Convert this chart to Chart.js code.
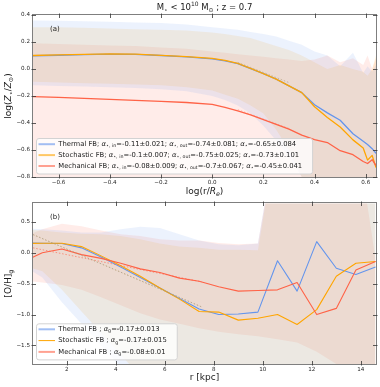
<!DOCTYPE html>
<html><head><meta charset="utf-8">
<script src="https://cdn.jsdelivr.net/npm/chart.js@4.4.1/dist/chart.umd.min.js"></script>
<style>
html,body{margin:0;padding:0;background:#fff;}
#wrap{position:relative;width:380px;height:387px;overflow:hidden;background:#fff}
canvas{position:absolute;left:0}
</style>
</head><body>
<div id="wrap">
<canvas id="ca" width="380" height="197" style="top:0;width:380px;height:197px"></canvas>
<canvas id="cb" width="380" height="190" style="top:197px;width:380px;height:190px"></canvas>
</div>
<script>
// ---------------- DATA ----------------
// Panel (a): stellar metallicity profiles vs log(r/Re)
const xA = [-0.7, -0.6, -0.5, -0.4, -0.3, -0.2, -0.1, 0.0, 0.05, 0.1, 0.15, 0.2, 0.25, 0.3, 0.35, 0.4, 0.45, 0.5, 0.55, 0.59, 0.607, 0.625, 0.64];
const thermalA    = [0.098, 0.102, 0.106, 0.110, 0.108, 0.100, 0.090, 0.075, 0.060, 0.040, 0.003, -0.035, -0.075, -0.125, -0.175, -0.265, -0.325, -0.38, -0.48, -0.535, -0.56, -0.59, -0.625];
const stochasticA = [0.100, 0.104, 0.108, 0.112, 0.110, 0.101, 0.092, 0.078, 0.064, 0.042, 0.004, -0.035, -0.075, -0.125, -0.175, -0.28, -0.36, -0.43, -0.525, -0.585, -0.675, -0.64, -0.73];
const mechanicalA = [-0.205, -0.21, -0.218, -0.225, -0.232, -0.24, -0.248, -0.262, -0.285, -0.31, -0.34, -0.375, -0.41, -0.445, -0.49, -0.523, -0.545, -0.605, -0.635, -0.685, -0.70, -0.672, -0.715];
const thermalA_hi    = [0.36, 0.357, 0.353, 0.35, 0.345, 0.34, 0.33, 0.31, 0.30, 0.29, 0.275, 0.26, 0.24, 0.21, 0.18, 0.13, 0.10, 0.02, 0.12, -0.03, 0.02, -0.02, 0.03];
const thermalA_lo    = [-0.12, -0.125, -0.13, -0.135, -0.14, -0.15, -0.165, -0.2, -0.23, -0.27, -0.33, -0.42, -0.53, -0.65, -0.8, -0.95, -1.1, -1.2, -1.3, -1.4, -1.4, -1.4, -1.4];
const stochasticA_hi = [0.31, 0.31, 0.305, 0.30, 0.295, 0.29, 0.285, 0.27, 0.26, 0.245, 0.23, 0.2, 0.17, 0.14, 0.1, 0.05, 0.0, 0.03, 0.0, -0.02, -0.05, 0.0, 0.1];
const stochasticA_lo = [-0.095, -0.1, -0.105, -0.11, -0.115, -0.12, -0.135, -0.16, -0.19, -0.22, -0.27, -0.33, -0.45, -0.6, -0.8, -1.0, -1.1, -1.2, -1.3, -1.4, -1.4, -1.4, -1.4];
const mechanicalA_hi = [0.19, 0.185, 0.18, 0.175, 0.17, 0.16, 0.15, 0.13, 0.12, 0.11, 0.1, 0.09, 0.08, 0.07, 0.06, 0.07, 0.1, 0.05, 0.08, 0.03, 0.1, 0.0, 0.08];
const mechanicalA_lo = [-1.2, -1.2, -1.2, -1.2, -1.2, -1.2, -1.2, -1.2, -1.2, -1.2, -1.2, -1.2, -1.2, -1.2, -1.2, -1.2, -1.2, -1.2, -1.2, -1.2, -1.2, -1.2, -1.2];
// outer-slope fits (panel a)
const fitAX = [0.1, 0.3];
const fitAThermal    = [0.047, -0.101];
const fitAStochastic = [0.05, -0.10];
const fitAMechanical = [-0.30, -0.44];

// Panel (b): gas [O/H] profiles vs r [kpc]
const xB = [0.2, 1.0, 1.8, 2.6, 3.4, 4.2, 5.0, 5.8, 6.6, 7.4, 8.2, 9.0, 9.8, 10.6, 11.4, 12.2, 13.0, 13.8, 14.6];
const thermalB    = [0.16, 0.155, 0.15, 0.08, -0.07, -0.23, -0.4, -0.57, -0.74, -0.91, -1.0, -0.99, -0.96, -0.13, -0.62, 0.18, -0.25, -0.35, -0.23];
const stochasticB = [0.15, 0.155, 0.155, 0.1, -0.05, -0.21, -0.38, -0.57, -0.75, -0.95, -0.96, -1.09, -1.06, -1.0, -1.16, -0.92, -0.38, -0.17, -0.14];
const mechanicalB = [-0.15, 0.0, 0.06, -0.03, -0.09, -0.17, -0.26, -0.32, -0.41, -0.46, -0.55, -0.62, -0.61, -0.6, -0.48, -1.0, -0.9, -0.28, -0.14];
const thermalB_hi    = [0.4, 0.38, 0.36, 0.33, 0.33, 0.38, 0.42, 0.4, 0.3, 0.2, 0.14, 0.12, 0.15, 2, 2, 2, 2, 2, 2];
const thermalB_lo    = [-0.2, -0.4, -0.8, -1.15, -1.5, -1.85, -2.5, -2.5, -2.5, -2.5, -2.5, -2.5, -2.5, -2.5, -2.5, -2.5, -2.5, -2.5, -2.5];
const stochasticB_hi = [0.38, 0.36, 0.33, 0.31, 0.3, 0.27, 0.22, 0.15, 0.1, 0.08, 0.05, 0.05, 0.04, 2, 2, 2, 2, 2, 2];
const stochasticB_lo = [-0.2, -0.3, -0.6, -0.95, -1.3, -1.65, -2.0, -2.5, -2.5, -2.5, -2.5, -2.5, -2.5, -2.5, -2.5, -2.5, -2.5, -2.5, -2.5];
const mechanicalB_hi = [0.25, 0.38, 0.47, 0.43, 0.36, 0.3, 0.27, 0.22, 0.2, 0.2, 0.16, 0.14, 0.15, 2, 2, 2, 2, 2, -0.1];
const mechanicalB_lo = [-0.45, -0.48, -0.52, -0.6, -0.72, -0.85, -0.98, -1.08, -1.15, -1.22, -1.28, -1.32, -1.35, -1.4, -1.45, -1.6, -1.8, -2.2, -2.5];
// gradient fits (panel b)
const fitBX = [0.62, 7.5];
const fitBThermal    = [0.295, -0.875];
const fitBStochastic = [0.295, -0.875];
const fitBMechanical = [0.08, -0.47];

// Tick labels
const xTicksA = [-0.6, -0.4, -0.2, 0.0, 0.2, 0.4, 0.6];
const yTicksA = [0.4, 0.2, 0.0, -0.2, -0.4, -0.6, -0.8];
const xTicksB = [2, 4, 6, 8, 10, 12, 14];
const yTicksB = [0.5, 0.0, -0.5, -1.0, -1.5];

// Legend texts
const seriesNames = ['Thermal FB', 'Stochastic FB', 'Mechanical FB'];
const alphaIn  = ['-0.11±0.021', '-0.1±0.007', '-0.08±0.009'];
const alphaOut = ['-0.74±0.081', '-0.75±0.025', '-0.7±0.067'];
const alphaAll = ['-0.65±0.084', '-0.73±0.101', '-0.45±0.041'];
const alphaG   = ['-0.17±0.013', '-0.17±0.015', '-0.08±0.01'];

// ---------------- STYLE ----------------
const RGB = ['100,149,237', '255,165,0', '255,99,71'];
const FAM = '"DejaVu Sans", sans-serif';

function pts(xs, ys) { return xs.map((x, i) => ({ x: x, y: ys[i] })); }
function bandSets(xs, hi, lo, rgb) {
  return [
    { data: pts(xs, hi), borderWidth: 0, pointRadius: 0, fill: '+1', backgroundColor: 'rgba(' + rgb + ',0.12)', borderColor: 'rgba(0,0,0,0)', order: 20 },
    { data: pts(xs, lo), borderWidth: 0, pointRadius: 0, fill: false, borderColor: 'rgba(0,0,0,0)', order: 20 }
  ];
}
function lineSet(xs, ys, rgb, w, order) {
  return { data: pts(xs, ys), borderColor: 'rgb(' + rgb + ')', borderWidth: w, pointRadius: 0, fill: false, tension: 0, order: order, borderJoinStyle: 'round' };
}
function fitSet(xs, ys, rgb, a) {
  return { data: pts(xs, ys), borderColor: 'rgba(' + rgb + ',' + a + ')', borderWidth: 1, borderDash: [1.5, 1.8], pointRadius: 0, fill: false, tension: 0, order: 0 };
}
function fmt(v, d) { return Number(v).toFixed(d).replace('-', '\u2212'); }

function scaleOpts(min, max, ticksArr, dec, isY, fitSize, pad) {
  return {
    type: 'linear', min: min, max: max,
    afterBuildTicks: s => { s.ticks = ticksArr.map(v => ({ value: v })); },
    afterFit: s => { if (isY) s.width = fitSize; else s.height = fitSize; },
    grid: { display: false, drawTicks: false, tickLength: 0 }, border: { display: false },
    ticks: { autoSkip: false, maxRotation: 0, padding: pad, color: '#262626',
      font: { family: FAM, size: 5.6 }, callback: v => fmt(v, dec) }
  };
}

// rich text helpers
function segFont(s, size) { const sz = (s.sub || s.sup) ? size * 0.7 : size; return (s.it ? 'italic ' : '') + sz.toFixed(2) + 'px ' + FAM; }
function richW(ctx, segs, size) { let w = 0; for (const s of segs) { ctx.font = segFont(s, size); w += ctx.measureText(s.t).width; } return w; }
function drawRich(ctx, segs, x, y, size, align, color, rot) {
  ctx.save(); ctx.translate(x, y); if (rot) ctx.rotate(rot);
  const w = richW(ctx, segs, size);
  let cx = align === 'center' ? -w / 2 : (align === 'right' ? -w : 0);
  ctx.fillStyle = color; ctx.textBaseline = 'middle'; ctx.textAlign = 'left';
  for (const s of segs) {
    ctx.font = segFont(s, size);
    const dy = s.sub ? size * 0.25 : (s.sup ? -size * 0.38 : 0);
    ctx.fillText(s.t, cx, dy);
    cx += ctx.measureText(s.t).width;
  }
  ctx.restore(); return w;
}
function roundRectPath(ctx, x, y, w, h, r) {
  ctx.beginPath();
  ctx.moveTo(x + r, y); ctx.lineTo(x + w - r, y); ctx.quadraticCurveTo(x + w, y, x + w, y + r);
  ctx.lineTo(x + w, y + h - r); ctx.quadraticCurveTo(x + w, y + h, x + w - r, y + h);
  ctx.lineTo(x + r, y + h); ctx.quadraticCurveTo(x, y + h, x, y + h - r);
  ctx.lineTo(x, y + r); ctx.quadraticCurveTo(x, y, x + r, y); ctx.closePath();
}
function drawLegend(ctx, rows, handles, x0, y0, firstOff, rowH, size) {
  const textX = x0 + 22.3;
  let maxW = 0; rows.forEach(r => { maxW = Math.max(maxW, richW(ctx, r, size)); });
  const w = (textX - x0) + maxW + 10;
  const h = firstOff + rowH * (rows.length - 1) + 7.5;
  ctx.save();
  roundRectPath(ctx, x0 + 0.5, y0 + 0.5, w, h, 2.5);
  ctx.fillStyle = 'rgba(255,255,255,0.8)'; ctx.fill();
  ctx.strokeStyle = '#d3d3d3'; ctx.lineWidth = 1; ctx.stroke();
  rows.forEach((r, i) => {
    const yc = y0 + firstOff + i * rowH;
    const hd = handles[i];
    ctx.strokeStyle = hd.color; ctx.lineWidth = hd.w; ctx.lineCap = 'butt';
    ctx.beginPath(); ctx.moveTo(x0 + 2.5, yc); ctx.lineTo(x0 + 19, yc); ctx.stroke();
    drawRich(ctx, r, textX, yc, size, 'left', '#1a1a1a');
  });
  ctx.restore();
}
function drawFrame(chart, xt, yt) {
  const ctx = chart.ctx, a = chart.chartArea, xs = chart.scales.x, ys = chart.scales.y;
  ctx.save();
  ctx.strokeStyle = '#7f7f7f'; ctx.lineWidth = 1;
  const L = Math.round(a.left), T = Math.round(a.top), R = Math.round(a.right), B = Math.round(a.bottom);
  ctx.strokeRect(L - 0.5, T - 0.5, R - L + 1, B - T + 1);
  ctx.strokeStyle = '#333'; ctx.lineWidth = 0.8;
  ctx.beginPath();
  xt.forEach(v => {
    const p = Math.round(xs.getPixelForValue(v)) + 0.5;
    ctx.moveTo(p, B + 1.5); ctx.lineTo(p, B - 3);
    ctx.moveTo(p, T - 1.5); ctx.lineTo(p, T + 3);
  });
  yt.forEach(v => {
    const p = Math.round(ys.getPixelForValue(v)) + 0.5;
    ctx.moveTo(L - 1.5, p); ctx.lineTo(L + 3, p);
    ctx.moveTo(R + 1.5, p); ctx.lineTo(R - 3, p);
  });
  ctx.stroke();
  ctx.restore();
}

const SUBSTAR = '\u22C6';
const ODOT = '\u2299';

// ---------------- CHART A ----------------
const dsA = [].concat(
  bandSets(xA, thermalA_hi, thermalA_lo, RGB[0]),
  bandSets(xA, stochasticA_hi, stochasticA_lo, RGB[1]),
  bandSets(xA, mechanicalA_hi, mechanicalA_lo, RGB[2]),
  [lineSet(xA, thermalA, RGB[0], 1.3, 3),
   lineSet(xA, stochasticA, RGB[1], 1.3, 2),
   lineSet(xA, mechanicalA, RGB[2], 1.3, 1),
   fitSet(fitAX, fitAThermal, RGB[0], 0.35),
   fitSet(fitAX, fitAStochastic, RGB[1], 0.35),
   fitSet(fitAX, fitAMechanical, RGB[2], 0.35)]
);

const legendRowsA = seriesNames.map((n, i) => [
  { t: n + '; ' }, { t: '\u03B1', it: 1 }, { t: SUBSTAR + ', in', sub: 1 }, { t: '=' + alphaIn[i] + '; ' },
  { t: '\u03B1', it: 1 }, { t: SUBSTAR + ', out', sub: 1 }, { t: '=' + alphaOut[i] + '; ' },
  { t: '\u03B1', it: 1 }, { t: SUBSTAR, sub: 1 }, { t: '=' + alphaAll[i] }
]);

const decorA = {
  id: 'decorA',
  afterDraw(chart) {
    const ctx = chart.ctx, a = chart.chartArea;
    drawFrame(chart, xTicksA, yTicksA);
    const cx = (a.left + a.right) / 2;
    drawRich(ctx, [{ t: '(a)' }], a.left + 17, a.top + 14.3, 7, 'left', '#1a1a1a');
    drawLegend(ctx, legendRowsA, [
      { color: 'rgba(' + RGB[0] + ',0.6)', w: 2 },
      { color: 'rgba(' + RGB[1] + ',0.6)', w: 2 },
      { color: 'rgba(' + RGB[2] + ',0.6)', w: 2 }], 36, 138, 6.2, 10.9, 6.8);
    drawRich(ctx, [{ t: 'M' }, { t: SUBSTAR, sub: 1 }, { t: ' < 10' }, { t: '10', sup: 1 }, { t: ' M' }, { t: ODOT, sub: 1 }, { t: ' ; z = 0.7' }],
      cx, 8, 8.5, 'center', '#1a1a1a');
    drawRich(ctx, [{ t: 'log(r/' }, { t: 'R', it: 1 }, { t: 'e', sub: 1, it: 1 }, { t: ')' }], cx, a.bottom + 15, 9, 'center', '#1a1a1a');
    drawRich(ctx, [{ t: 'log(' }, { t: 'Z', it: 1 }, { t: SUBSTAR, sub: 1 }, { t: '/' }, { t: 'Z', it: 1 }, { t: ODOT, sub: 1 }, { t: ')' }],
      9, (a.top + a.bottom) / 2, 9, 'center', '#1a1a1a', -Math.PI / 2);
  }
};

new Chart(document.getElementById('ca'), {
  type: 'line',
  data: { datasets: dsA },
  options: {
    responsive: false, animation: false, devicePixelRatio: 1, events: [],
    layout: { padding: { top: 15, left: 0, right: 4, bottom: 0 } },
    plugins: { legend: { display: false }, tooltip: { enabled: false }, title: { display: false },
      filler: { drawTime: 'beforeDatasetsDraw' } },
    scales: {
      x: scaleOpts(-0.7, 0.64, xTicksA, 1, false, 20, 2),
      y: scaleOpts(-0.8, 0.4, yTicksA, 1, true, 33, 3)
    }
  },
  plugins: [decorA]
});

// ---------------- CHART B ----------------
const dsB = [].concat(
  bandSets(xB, thermalB_hi, thermalB_lo, RGB[0]),
  bandSets(xB, stochasticB_hi, stochasticB_lo, RGB[1]),
  bandSets(xB, mechanicalB_hi, mechanicalB_lo, RGB[2]),
  [lineSet(xB, thermalB, RGB[0], 1.1, 3),
   lineSet(xB, stochasticB, RGB[1], 1.1, 2),
   lineSet(xB, mechanicalB, RGB[2], 1.1, 1),
   fitSet(fitBX, fitBThermal, RGB[0], 0.45),
   fitSet(fitBX, fitBStochastic, RGB[1], 0.6),
   fitSet(fitBX, fitBMechanical, RGB[2], 0.6)]
);

const legendRowsB = seriesNames.map((n, i) => [
  { t: n + ' ; ' }, { t: '\u03B1', it: 1 }, { t: 'g', sub: 1 }, { t: '=' + alphaG[i] }
]);

const decorB = {
  id: 'decorB',
  afterDraw(chart) {
    const ctx = chart.ctx, a = chart.chartArea;
    drawFrame(chart, xTicksB, yTicksB);
    const cx = (a.left + a.right) / 2;
    drawRich(ctx, [{ t: '(b)' }], a.left + 17, a.top + 14, 7, 'left', '#1a1a1a');
    drawLegend(ctx, legendRowsB, [
      { color: 'rgba(' + RGB[0] + ',0.6)', w: 2 },
      { color: 'rgb(' + RGB[1] + ')', w: 1 },
      { color: 'rgba(' + RGB[2] + ',0.6)', w: 2 }], 36, 126.3, 6.0, 11.3, 6.8);
    drawRich(ctx, [{ t: 'r [kpc]' }], cx, a.bottom + 14, 9, 'center', '#1a1a1a');
    drawRich(ctx, [{ t: '[O/H]' }, { t: 'g', sub: 1 }], 9, (a.top + a.bottom) / 2, 9, 'center', '#1a1a1a', -Math.PI / 2);
  }
};

new Chart(document.getElementById('cb'), {
  type: 'line',
  data: { datasets: dsB },
  options: {
    responsive: false, animation: false, devicePixelRatio: 1, events: [],
    layout: { padding: { top: 5, left: 0, right: 4, bottom: 0 } },
    plugins: { legend: { display: false }, tooltip: { enabled: false }, title: { display: false },
      filler: { drawTime: 'beforeDatasetsDraw' } },
    scales: {
      x: scaleOpts(0.62, 14.62, xTicksB, 0, false, 23, 2),
      y: scaleOpts(-1.8, 0.8, yTicksB, 1, true, 33, 3)
    }
  },
  plugins: [decorB]
});
</script>
</body></html>
